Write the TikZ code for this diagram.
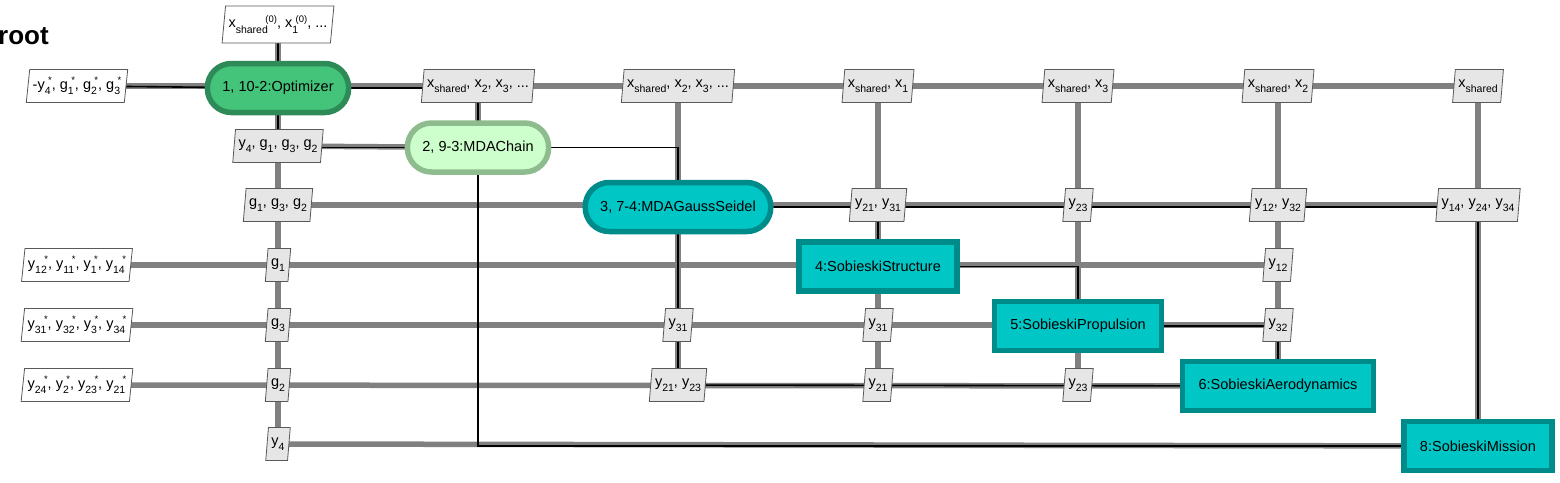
\documentclass[tikz,border=0pt]{standalone}
\usepackage{fontspec}
\setmainfont{Liberation Sans}
\usetikzlibrary{shapes.geometric,backgrounds}
\definecolor{optfill}{RGB}{67,196,122}
\definecolor{optdraw}{RGB}{46,139,87}
\definecolor{mdafill}{RGB}{204,255,204}
\definecolor{mdadraw}{RGB}{143,188,143}
\definecolor{discfill}{RGB}{0,198,198}
\definecolor{discdraw}{RGB}{0,139,139}
\definecolor{datafill}{RGB}{230,230,230}
\definecolor{flowgray}{RGB}{128,128,128}

\newcommand{\lowtxt}[1]{\raisebox{-5.5pt}{\fontsize{10.5}{10.5}\selectfont #1}}
\newcommand{\hightxt}[1]{\raisebox{5.5pt}{\fontsize{9.5}{9.5}\selectfont #1}}
\newcommand{\dsub}[2]{#1\lowtxt{#2}}
\newcommand{\dsup}[3]{#1\lowtxt{#2}\kern-2.5pt\hightxt{#3}}

\begin{document}
\begin{tikzpicture}[
    x=1pt, y=-1pt,
    optbox/.style={rectangle, rounded corners=24pt, draw=optdraw, fill=optfill, line width=5.5pt, minimum height=49pt, inner xsep=15pt, font=\fontsize{14.5}{16}\selectfont},
    mdabox/.style={optbox, draw=mdadraw, fill=mdafill},
    gsbox/.style={optbox, draw=discdraw, fill=discfill},
    discbox/.style={rectangle, draw=discdraw, fill=discfill, line width=5.5pt, minimum height=49pt, inner xsep=16pt, font=\fontsize{14.5}{16}\selectfont},
    databox/.style={trapezium, trapezium left angle=81, trapezium right angle=99, trapezium stretches body, draw=black!65, fill=datafill, line width=0.8pt, minimum height=33pt, inner xsep=3pt, inner ysep=2pt, font=\fontsize{14.5}{16}\selectfont},
    iobox/.style={databox, fill=white},
    dline/.style={draw=flowgray, line width=5.5pt},
    pline/.style={draw=black, line width=1.6pt},
]
    \useasboundingbox (0,0) rectangle (1560,482);
    \node[anchor=base west, inner sep=0pt, font=\bfseries\fontsize{26}{26}\selectfont] (title) at (-2,44) {root};

    % Inputs and outputs
    \node[iobox, minimum height=37pt] (xinit) at (278,24.5) {\dsup{x}{shared}{(0)}, \dsup{x}{1}{(0)}, ...};
    \node[iobox] (out1) at (77,86) {-\dsup{y}{4}{*}, \dsup{g}{1}{*}, \dsup{g}{2}{*}, \dsup{g}{3}{*}};
    \node[iobox] (out4) at (77,265) {\dsup{y}{12}{*}, \dsup{y}{11}{*}, \dsup{y}{1}{*}, \dsup{y}{14}{*}};
    \node[iobox] (out5) at (77,325) {\dsup{y}{31}{*}, \dsup{y}{32}{*}, \dsup{y}{3}{*}, \dsup{y}{34}{*}};
    \node[iobox] (out6) at (77,385) {\dsup{y}{24}{*}, \dsup{y}{2}{*}, \dsup{y}{23}{*}, \dsup{y}{21}{*}};

    % Processes
    \node[optbox] (opt) at (278,88) {1, 10-2:Optimizer};
    \node[mdabox] (mdac) at (478,147.5) {2, 9-3:MDAChain};
    \node[gsbox] (gsmda) at (678,207) {3, 7-4:MDAGaussSeidel};
    \node[discbox] (struc) at (878,266.5) {4:SobieskiStructure};
    \node[discbox] (prop) at (1078,326) {5:SobieskiPropulsion};
    \node[discbox] (aero) at (1278,386) {6:SobieskiAerodynamics};
    \node[discbox] (miss) at (1478,446) {8:SobieskiMission};

    % Data
    \node[databox] (d12) at (478,86) {\dsub{x}{shared}, \dsub{x}{2}, \dsub{x}{3}, ...};
    \node[databox] (d13) at (678,86) {\dsub{x}{shared}, \dsub{x}{2}, \dsub{x}{3}, ...};
    \node[databox] (d14) at (878,86) {\dsub{x}{shared}, \dsub{x}{1}};
    \node[databox] (d15) at (1078,86) {\dsub{x}{shared}, \dsub{x}{3}};
    \node[databox] (d16) at (1278,86) {\dsub{x}{shared}, \dsub{x}{2}};
    \node[databox] (d17) at (1478,86) {\dsub{x}{shared}};
    \node[databox] (d21) at (278,146) {\dsub{y}{4}, \dsub{g}{1}, \dsub{g}{3}, \dsub{g}{2}};
    \node[databox] (d31) at (278,205) {\dsub{g}{1}, \dsub{g}{3}, \dsub{g}{2}};
    \node[databox] (d34) at (878,205) {\dsub{y}{21}, \dsub{y}{31}};
    \node[databox] (d35) at (1078,205) {\dsub{y}{23}};
    \node[databox] (d36) at (1278,205) {\dsub{y}{12}, \dsub{y}{32}};
    \node[databox] (d37) at (1478,205) {\dsub{y}{14}, \dsub{y}{24}, \dsub{y}{34}};
    \node[databox] (d41) at (278,265) {\dsub{g}{1}};
    \node[databox] (d46) at (1278,265) {\dsub{y}{12}};
    \node[databox] (d51) at (278,325) {\dsub{g}{3}};
    \node[databox] (d53) at (678,325) {\dsub{y}{31}};
    \node[databox] (d54) at (878,325) {\dsub{y}{31}};
    \node[databox] (d56) at (1278,325) {\dsub{y}{32}};
    \node[databox] (d61) at (278,385) {\dsub{g}{2}};
    \node[databox] (d63) at (678,385) {\dsub{y}{21}, \dsub{y}{23}};
    \node[databox] (d64) at (878,385) {\dsub{y}{21}};
    \node[databox] (d65) at (1078,385) {\dsub{y}{23}};
    \node[databox] (d71) at (278,444) {\dsub{y}{4}};

    \begin{scope}[on background layer]
        % Data flow
        \draw[dline] (out1.center) -- (d17.center);
        \draw[dline] (d21.center) -- (mdac.center);
        \draw[dline] (d31.center) -- (d37.center);
        \draw[dline] (out4.center) -- (d46.center);
        \draw[dline] (out5.center) -- (d56.center);
        \draw[dline] (out6.center) -- (aero.center);
        \draw[dline] (d71.center) -- (miss.center);
        \draw[dline] (xinit.center) -- (d71.center);
        \draw[dline] (d12.center) -- (mdac.center);
        \draw[dline] (d13.center) -- (d63.center);
        \draw[dline] (d14.center) -- (d64.center);
        \draw[dline] (d15.center) -- (d65.center);
        \draw[dline] (d16.center) -- (aero.center);
        \draw[dline] (d17.center) -- (miss.center);

        % Process flow
        \draw[pline] (xinit.center) -- (opt.center) -- (out1.center);
        \draw[pline] (opt.center) -| (mdac.center);
        \draw[pline] (mdac.center) -| (opt.center);
        \draw[pline] (mdac.center) -| (gsmda.center);
        \draw[pline] (mdac.center) |- (miss.center);
        \draw[pline] (gsmda.center) -- (d63.center) -- (aero.center);
        \draw[pline] (gsmda.center) -| (miss.center);
        \draw[pline] (d34.center) -- (struc.center);
        \draw[pline] (struc.center) -| (prop.center);
        \draw[pline] (prop.center) -| (aero.center);
    \end{scope}
\end{tikzpicture}
\end{document}
